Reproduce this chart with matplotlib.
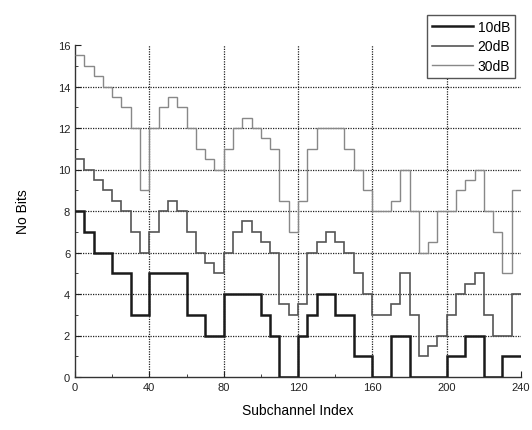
import numpy as np
import matplotlib
matplotlib.use('Agg')
import matplotlib.pyplot as plt

plt.rcParams['font.family'] = ['Liberation Sans', 'DejaVu Sans']

# bits per subchannel group (groups of 5 subchannels, 0..240)
edges = np.arange(0, 241, 5)

bits_10db = [8, 7, 6, 6, 5, 5, 3, 3, 5, 5, 5, 5, 3, 3, 2, 2,
             4, 4, 4, 4, 3, 2, 0, 0, 2, 3, 4, 4, 3, 3, 1, 1,
             0, 0, 2, 2, 0, 0, 0, 0, 1, 1, 2, 2, 0, 0, 1, 1]
bits_20db = [10.5, 10, 9.5, 9, 8.5, 8, 7, 6, 7, 8, 8.5, 8, 7, 6, 5.5, 5,
             6, 7, 7.5, 7, 6.5, 6, 3.5, 3, 3.5, 6, 6.5, 7, 6.5, 6, 5, 4,
             3, 3, 3.5, 5, 3, 1, 1.5, 2, 3, 4, 4.5, 5, 3, 2, 2, 4]
bits_30db = [15.5, 15, 14.5, 14, 13.5, 13, 12, 9, 12, 13, 13.5, 13, 12, 11, 10.5, 10,
             11, 12, 12.5, 12, 11.5, 11, 8.5, 7, 8.5, 11, 12, 12, 12, 11, 10, 9,
             8, 8, 8.5, 10, 8, 6, 6.5, 8, 8, 9, 9.5, 10, 8, 7, 5, 9]

xticks = [0, 40, 80, 120, 160, 200, 240]
yticks = [0, 2, 4, 6, 8, 10, 12, 14, 16]

fig = plt.figure(figsize=(5.32, 4.31), dpi=100)
ax = fig.add_axes([75/532, 1-378/431, 446/532, 332/431])

# dotted grid (inner lines only)
for y in yticks[1:-1]:
    ax.axhline(y, color='#222222', linestyle=(0, (1, 1)), linewidth=0.9, zorder=1)
for x in xticks[1:-1]:
    ax.axvline(x, color='#222222', linestyle=(0, (1, 1)), linewidth=0.9, zorder=1)

ax.stairs(bits_10db, edges, baseline=None, color='#1a1a1a', linewidth=1.8, label='10dB', zorder=3)
ax.stairs(bits_20db, edges, baseline=None, color='#555555', linewidth=1.2, label='20dB', zorder=3)
ax.stairs(bits_30db, edges, baseline=None, color='#888888', linewidth=1.0, label='30dB', zorder=3)

ax.set_xlim(0, 240)
ax.set_ylim(0, 16)
ax.set_xticks(xticks)
ax.set_yticks(yticks)
ax.set_xticks(np.arange(20, 240, 40), minor=True)
ax.set_yticks(np.arange(1, 16, 2), minor=True)
ax.tick_params(which='both', direction='in', labelsize=8, colors='#222222')
ax.tick_params(which='major', length=4)
ax.tick_params(which='minor', length=2.5)

for s in ['top', 'right']:
    ax.spines[s].set_visible(False)
for s in ['left', 'bottom']:
    ax.spines[s].set_color('#333333')
    ax.spines[s].set_linewidth(1.0)

ax.set_xlabel('Subchannel Index', fontsize=10, labelpad=8)
ax.set_ylabel('No Bits', fontsize=10, labelpad=20)

leg = fig.legend(loc='upper right', bbox_to_anchor=(522/532, 1-9/431),
                 fontsize=10, handlelength=3.0, handletextpad=0.3,
                 borderpad=0.35, labelspacing=0.4, fancybox=False,
                 edgecolor='#555555', framealpha=1)
leg.get_frame().set_linewidth(1.0)

fig.savefig('out.png', dpi=100)
